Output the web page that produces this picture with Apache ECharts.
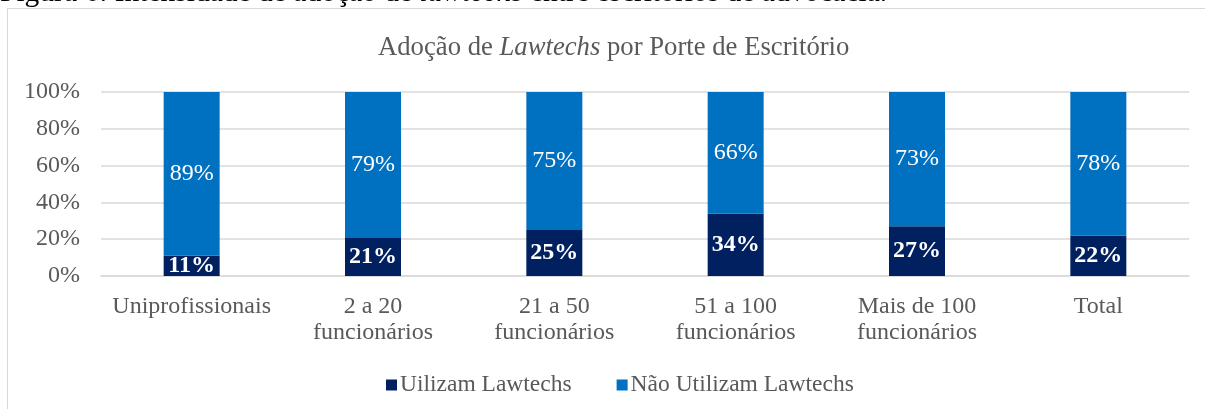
<!DOCTYPE html>
<html>
<head>
<meta charset="utf-8">
<script src="https://cdn.jsdelivr.net/npm/echarts@6/dist/echarts.min.js"></script>
<style>
html,body{margin:0;padding:0;background:#fff;}
#chart{width:1205px;height:409px;}
</style>
</head>
<body>
<div id="chart"></div>
<script>
var categories = ['Uniprofissionais', '2 a 20\nfuncionários', '21 a 50\nfuncionários', '51 a 100\nfuncionários', 'Mais de 100\nfuncionários', 'Total'];
var utilizam = [11, 21, 25, 34, 27, 22];
var naoUtilizam = [89, 79, 75, 66, 73, 78];
var seriesNames = ['Uilizam Lawtechs', 'Não Utilizam Lawtechs'];
var yTicks = [0, 20, 40, 60, 80, 100];

var FONT = 'Liberation Serif';
var chart = echarts.init(document.getElementById('chart'));
chart.setOption({
  backgroundColor: '#fff',
  animation: false,
  title: {
    text: '{a|Adoção de }{b|Lawtechs}{a| por Porte de Escritório}',
    left: 373,
    top: 29,
    textStyle: {
      fontWeight: 'normal',
      rich: {
        a: {fontFamily: FONT, fontSize: 26.7, color: '#595959', fontWeight: 'normal'},
        b: {fontFamily: FONT, fontSize: 26.7, color: '#595959', fontStyle: 'italic', fontWeight: 'normal'}
      }
    }
  },
  graphic: [
    {
      type: 'rect', silent: true,
      shape: {x: 7.5, y: 8.5, width: 1400, height: 600},
      style: {fill: 'none', stroke: '#d9d9d9', lineWidth: 1}
    },
    {
      type: 'text', silent: true,
      style: {
        x: 0, y: -7,
        text: '{n|Figura 6: Intensidade de adoção de }{i|lawtechs}{n| entre escritórios de advocacia.}',
        verticalAlign: 'middle',
        rich: {
          n: {fontFamily: FONT, fontSize: 29.5, fill: '#000', lineHeight: 29},
          i: {fontFamily: FONT, fontSize: 29.5, fill: '#000', fontStyle: 'italic', lineHeight: 29}
        }
      }
    }
  ],
  legend: {
    left: 381,
    top: 368,
    itemWidth: 11,
    itemHeight: 11,
    itemGap: 45,
    icon: 'rect',
    textStyle: {fontFamily: FONT, fontSize: 23.5, color: '#595959', padding: [0, 0, 0, -2]},
    data: seriesNames
  },
  grid: {left: 101, right: 16, top: 92, bottom: 133, containLabel: false},
  xAxis: {
    type: 'category',
    data: categories,
    axisLine: {lineStyle: {color: '#d9d9d9', width: 1.5}},
    axisTick: {show: false},
    axisLabel: {fontFamily: FONT, fontSize: 24, color: '#595959', lineHeight: 26, margin: 18, interval: 0}
  },
  yAxis: {
    type: 'value',
    min: yTicks[0],
    max: yTicks[yTicks.length - 1],
    interval: 20,
    axisLine: {show: false},
    axisTick: {show: false},
    splitLine: {lineStyle: {color: '#d9d9d9', width: 1.5}},
    axisLabel: {fontFamily: FONT, fontSize: 24, color: '#595959', margin: 21, formatter: '{value}%'}
  },
  series: [
    {
      name: seriesNames[0],
      type: 'bar',
      stack: 'total',
      barWidth: 56,
      data: utilizam,
      itemStyle: {color: '#002060'},
      label: {show: true, position: 'inside', color: '#fff', fontFamily: FONT, fontSize: 24, fontWeight: 'bold', formatter: '{c}%'}
    },
    {
      name: seriesNames[1],
      type: 'bar',
      stack: 'total',
      barWidth: 56,
      data: naoUtilizam,
      itemStyle: {color: '#0070C0'},
      label: {show: true, position: 'inside', color: '#fff', fontFamily: FONT, fontSize: 24, formatter: '{c}%'}
    }
  ]
});
</script>
</body>
</html>
